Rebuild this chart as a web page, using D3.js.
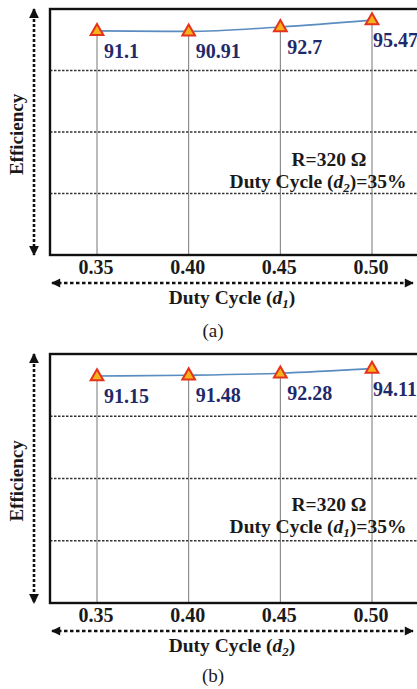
<!DOCTYPE html>
<html>
<head>
<meta charset="utf-8">
<script src="https://cdn.jsdelivr.net/npm/d3@7/dist/d3.min.js"></script>
<style>
  html, body { margin: 0; padding: 0; background: #fff; }
  svg { display: block; }
  text { font-family: "Liberation Serif", "Times New Roman", serif; }
</style>
</head>
<body>
<script>
// Duty cycle sweep points and tick labels
const dutyCycles = [0.35, 0.40, 0.45, 0.50];
const tickLabels = ["0.35", "0.40", "0.45", "0.50"];
// Measured efficiency (%) for each sweep
const efficiencyD1Sweep = [91.1, 90.91, 92.7, 95.47];
const efficiencyD2Sweep = [91.15, 91.48, 92.28, 94.11];
// Horizontal reference lines of the efficiency axis
const efficiencyGrid = [25, 50, 75];
const efficiencyDomain = [0, 100];

const W = 417, H = 689;
const svg = d3.select("body").append("svg").attr("width", W).attr("height", H);

const defs = svg.append("defs");
function arrowMarker(id) {
  defs.append("marker")
    .attr("id", id)
    .attr("viewBox", "0 0 10 10")
    .attr("refX", 9).attr("refY", 5)
    .attr("markerWidth", 4.4).attr("markerHeight", 3.8)
    .attr("markerUnits", "strokeWidth")
    .attr("orient", "auto-start-reverse")
    .append("path").attr("d", "M0,0 L10,5 L0,10 Z").attr("fill", "#111");
}
arrowMarker("arrow");

const panels = [
  { values: efficiencyD1Sweep, top: 9, height: 246, swept: "1", fixed: "2", tag: "(a)", tagGap: 82 },
  { values: efficiencyD2Sweep, top: 354, height: 249, swept: "2", fixed: "1", tag: "(b)", tagGap: 79 }
];

const frameLeft = 50, frameRight = 420;
const labelColor = "#1f2a6a";
const inkColor = "#1a1a1a";

panels.forEach(p => {
  const g = svg.append("g");
  const bottom = p.top + p.height;
  const x = d3.scaleLinear().domain([dutyCycles[0], dutyCycles[dutyCycles.length - 1]]).range([97, 372]);
  const y = d3.scaleLinear().domain(efficiencyDomain).range([bottom, p.top]);

  // dashed horizontal grid
  g.selectAll("line.hgrid").data(efficiencyGrid).join("line")
    .attr("class", "hgrid")
    .attr("x1", frameLeft).attr("x2", frameRight)
    .attr("y1", d => y(d)).attr("y2", d => y(d))
    .attr("stroke", "#333").attr("stroke-width", 1.3)
    .attr("stroke-dasharray", "2.5,1.5");

  // drop lines from each point to the axis
  g.selectAll("line.drop").data(p.values).join("line")
    .attr("class", "drop")
    .attr("x1", (d, i) => x(dutyCycles[i])).attr("x2", (d, i) => x(dutyCycles[i]))
    .attr("y1", d => y(d)).attr("y2", bottom)
    .attr("stroke", "#777").attr("stroke-width", 1);

  // frame
  g.append("rect")
    .attr("x", frameLeft).attr("y", p.top)
    .attr("width", frameRight - frameLeft).attr("height", p.height)
    .attr("fill", "none").attr("stroke", "#111").attr("stroke-width", 2.4);

  // efficiency curve
  const line = d3.line()
    .x((d, i) => x(dutyCycles[i]))
    .y(d => y(d))
    .curve(d3.curveMonotoneX);
  g.append("path").datum(p.values)
    .attr("d", line)
    .attr("fill", "none").attr("stroke", "#5a8cc0").attr("stroke-width", 1.6);

  // triangle markers
  const tri = d3.symbol().type(d3.symbolTriangle).size(70);
  g.selectAll("path.mk").data(p.values).join("path")
    .attr("class", "mk")
    .attr("d", tri)
    .attr("transform", (d, i) => `translate(${x(dutyCycles[i])},${y(d) + 0.5})`)
    .attr("fill", "#f6b21a").attr("stroke", "#e5321d").attr("stroke-width", 2);

  // value labels
  g.selectAll("text.val").data(p.values).join("text")
    .attr("class", "val")
    .attr("x", (d, i) => x(dutyCycles[i]) + (i === p.values.length - 1 ? 1 : 7))
    .attr("y", d => y(d) + 27)
    .attr("font-size", 20).attr("font-weight", "bold")
    .attr("fill", labelColor)
    .text(d => d);

  // x tick labels
  g.selectAll("text.tick").data(tickLabels).join("text")
    .attr("class", "tick")
    .attr("x", (d, i) => x(dutyCycles[i]) - 1)
    .attr("y", bottom + 19)
    .attr("text-anchor", "middle")
    .attr("font-size", 20).attr("font-weight", "bold").attr("fill", inkColor)
    .text(d => d);

  // horizontal double arrow under the axis
  g.append("line")
    .attr("x1", frameLeft + 2).attr("x2", 413)
    .attr("y1", bottom + 28).attr("y2", bottom + 28)
    .attr("stroke", "#111").attr("stroke-width", 2.4)
    .attr("stroke-dasharray", "3.5,2.5")
    .attr("marker-start", "url(#arrow)").attr("marker-end", "url(#arrow)");

  // x axis title
  const xt = g.append("text")
    .attr("x", 232).attr("y", bottom + 49)
    .attr("text-anchor", "middle")
    .attr("font-size", 19.5).attr("font-weight", "bold").attr("fill", inkColor);
  xt.append("tspan").text("Duty Cycle (");
  xt.append("tspan").attr("font-style", "italic").text("d");
  xt.append("tspan").attr("font-style", "italic").attr("font-size", 13).attr("dy", 4).text(p.swept);
  xt.append("tspan").attr("dy", -4).text(")");

  // vertical double arrow and y title
  g.append("line")
    .attr("x1", 34).attr("x2", 34)
    .attr("y1", p.top).attr("y2", bottom)
    .attr("stroke", "#111").attr("stroke-width", 2.6)
    .attr("stroke-dasharray", "3,2")
    .attr("marker-start", "url(#arrow)").attr("marker-end", "url(#arrow)");
  g.append("text")
    .attr("transform", `translate(23,${p.top + p.height * 0.51}) rotate(-90)`)
    .attr("text-anchor", "middle")
    .attr("font-size", 19).attr("font-weight", "bold").attr("fill", inkColor)
    .text("Efficiency");

  // operating condition note
  g.append("text")
    .attr("x", 329).attr("y", p.top + 157)
    .attr("text-anchor", "middle")
    .attr("font-size", 19.5).attr("font-weight", "bold").attr("fill", inkColor)
    .text("R=320 Ω");
  const note = g.append("text")
    .attr("x", 318).attr("y", p.top + 179)
    .attr("text-anchor", "middle")
    .attr("font-size", 19.5).attr("font-weight", "bold").attr("fill", inkColor);
  note.append("tspan").text("Duty Cycle (");
  note.append("tspan").attr("font-style", "italic").text("d");
  note.append("tspan").attr("font-style", "italic").attr("font-size", 13).attr("dy", 4).text(p.fixed);
  note.append("tspan").attr("dy", -4).text(")=35%");

  // panel tag
  g.append("text")
    .attr("x", 213).attr("y", bottom + p.tagGap)
    .attr("text-anchor", "middle")
    .attr("font-size", 19).attr("fill", inkColor)
    .text(p.tag);
});
</script>
</body>
</html>
